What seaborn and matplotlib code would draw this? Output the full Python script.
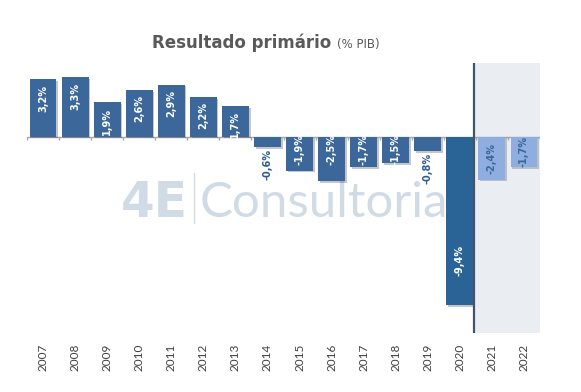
import matplotlib
matplotlib.use("Agg")
import matplotlib.pyplot as plt
import matplotlib.patheffects as pe
import seaborn as sns
import numpy as np
import pandas as pd

years = ["2007", "2008", "2009", "2010", "2011", "2012", "2013", "2014",
         "2015", "2016", "2017", "2018", "2019", "2020", "2021", "2022"]
values = [3.2, 3.3, 1.9, 2.6, 2.9, 2.2, 1.7, -0.6,
          -1.9, -2.5, -1.7, -1.5, -0.8, -9.4, -2.4, -1.7]
labels = ["3,2%", "3,3%", "1,9%", "2,6%", "2,9%", "2,2%", "1,7%", "-0,6%",
          "-1,9%", "-2,5%", "-1,7%", "-1,5%", "-0,8%", "-9,4%", "-2,4%", "-1,7%"]
projected = [False] * 14 + [True, True]

DARK = "#3B679B"
COVID = "#2A6497"
LIGHT = "#8FAEDF"
colors = [LIGHT if p else (COVID if y == "2020" else DARK) for y, p in zip(years, projected)]

df = pd.DataFrame({"year": years, "value": values})

sns.set_theme(style="white")
plt.rcParams["font.family"] = ["Lato", "DejaVu Sans"]

fig = plt.figure(figsize=(5.81, 3.92), dpi=100)
ax = fig.add_axes([27 / 581, 1 - 333 / 392, (540 - 27) / 581, (333 - 63) / 392])

# shaded projection area and divider
ax.axvspan(13.45, 15.5, color="#EAEEF2", zorder=0, lw=0)
ax.axvline(13.45, color="#44546A", lw=1.6, zorder=4)

# watermark
WM = "#D0DBE5"
ax.text(0.2476, 0.43, "4E", transform=ax.transAxes, fontsize=35, fontweight="heavy",
        color=WM, ha="center", va="baseline", zorder=1, family="DejaVu Sans")
ax.plot([0.3255, 0.3255], [0.407, 0.593], transform=ax.transAxes, color=WM, lw=1, zorder=1)
ax.text(0.337, 0.43, "Consultoria", transform=ax.transAxes, fontsize=35.5, fontweight="normal",
        color=WM, ha="left", va="baseline", zorder=1)

sns.barplot(data=df, x="year", y="value", hue="year", palette=colors, legend=False,
            width=0.84, saturation=1, linewidth=0, ax=ax, zorder=3)
for bar in ax.patches:
    bar.set_path_effects([pe.SimplePatchShadow(offset=(1.2, -1.2), alpha=0.25), pe.Normal()])

ax.set_xlim(-0.5, 15.5)
ax.set_ylim(-10.95, 4.1)

# zero line with small ticks at category boundaries
ax.axhline(0, color="#A6A6A6", lw=1, zorder=2)
ax.vlines(np.arange(-0.5, len(years)), -0.18, 0, color="#A6A6A6", lw=1, zorder=2)

# data labels
for i, (y, v, lab, p) in enumerate(zip(years, values, labels, projected)):
    kw = dict(rotation=90, fontsize=7, fontweight="bold", ha="center", zorder=5,
              family="DejaVu Sans")
    if v > 0:
        ax.text(i, v - 0.3, lab, va="top", color="white", **kw)
    elif p:
        ax.text(i, v / 2, lab, va="center", color="#3B679B", **kw)
    elif y == "2020":
        ax.text(i, v + 1.6, lab, va="bottom", color="white", **kw)
    elif v > -1:
        ax.text(i, v - 0.1, lab, va="top", color="#2F5C8F", **kw)
    else:
        ax.text(i, 0.15, lab, va="top", color="white", **kw)

ax.set_xlabel("")
ax.set_ylabel("")
ax.set_yticks([])
ax.tick_params(axis="x", length=0, pad=8, labelsize=8.5, labelcolor="#404040", rotation=90)
for s in ax.spines.values():
    s.set_visible(False)
ax.patch.set_alpha(0)

fig.text(331 / 581, 1 - 48 / 392, "Resultado primário", ha="right", va="baseline",
         fontsize=12, fontweight="bold", color="#595959", family="DejaVu Sans")
fig.text(337 / 581, 1 - 48 / 392, "(% PIB)", ha="left", va="baseline",
         fontsize=8.5, color="#595959", family="DejaVu Sans")

fig.savefig("out.png", dpi=100, facecolor="white")
